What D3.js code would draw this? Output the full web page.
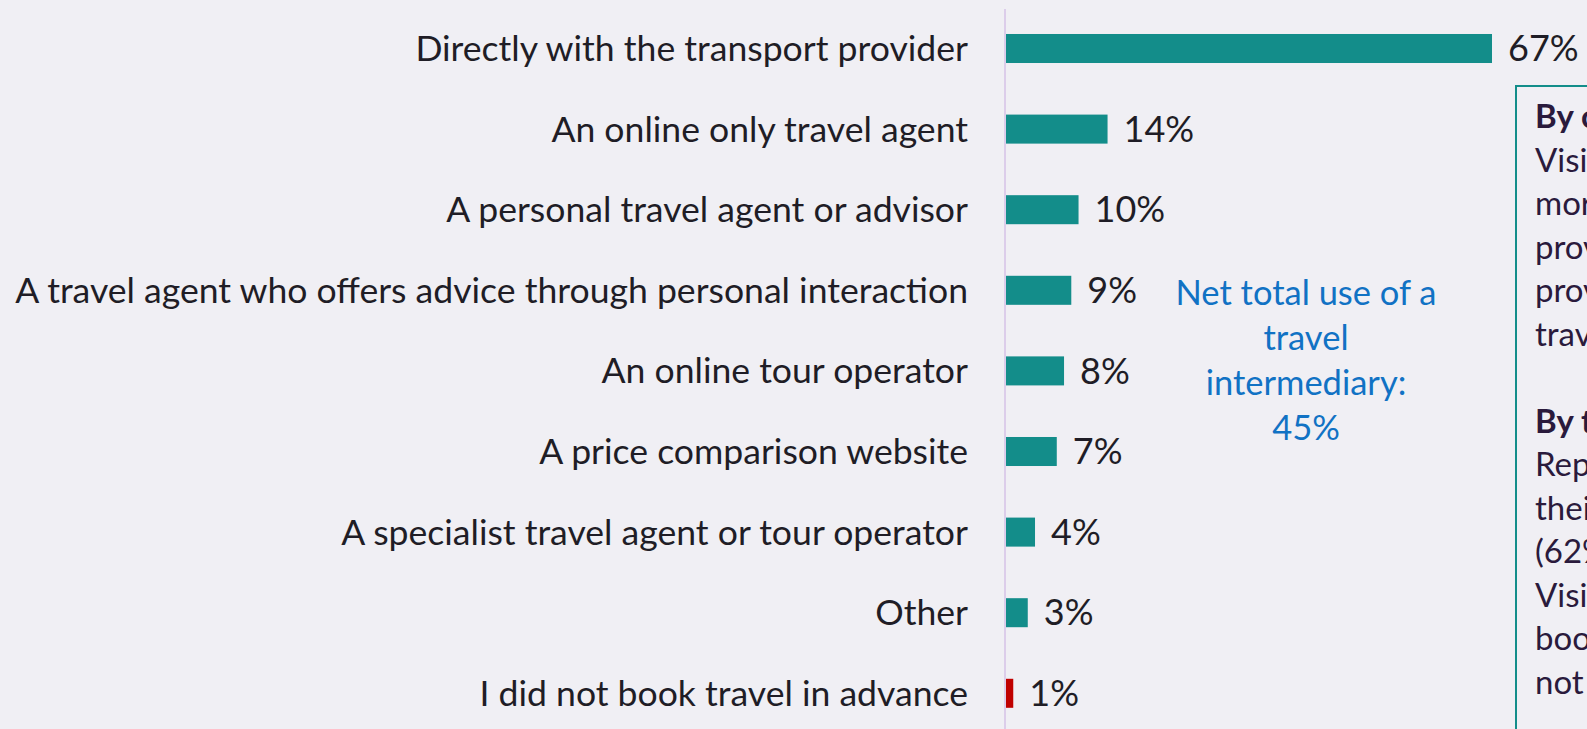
<!DOCTYPE html>
<html>
<head>
<meta charset="utf-8">
<script src="https://cdn.jsdelivr.net/npm/d3@7"></script>
<style>
  html, body { margin: 0; padding: 0; background: #f0eff4; overflow: hidden; }
  svg { display: block; font-family: Lato, "Open Sans", sans-serif; }
</style>
</head>
<body>
<div id="chart"></div>
<script>
// Data
const categories = [
    "Directly with the transport provider",
    "An online only travel agent",
    "A personal travel agent or advisor",
    "A travel agent who offers advice through personal interaction",
    "An online tour operator",
    "A price comparison website",
    "A specialist travel agent or tour operator",
    "Other",
    "I did not book travel in advance"
];
const values = [67, 14, 10, 9, 8, 7, 4, 3, 1];
const netLines = ["Net total use of a", "travel", "intermediary:", "45%"];
const boxLines = [
    { text: "By country:", bold: true },
    { text: "Visitors from long-haul markets were", bold: false },
    { text: "more likely than average to book with a", bold: false },
    { text: "provider directly, and short-haul visitors", bold: false },
    { text: "proved the most likely to use a", bold: false },
    { text: "travel intermediary.", bold: false },
    { text: "", bold: false },
    { text: "By type of visitor:", bold: true },
    { text: "Repeat visitors were more likely to book", bold: false },
    { text: "their travel directly with the provider", bold: false },
    { text: "(62%) than first-time visitors.", bold: false },
    { text: "Visitors on business were less likely to", bold: false },
    { text: "book in advance, with 3% saying they did", bold: false },
    { text: "not book travel before arriving.", bold: false }
];

const width = 1587, height = 729;

const svg = d3.select("#chart").append("svg")
    .attr("width", width)
    .attr("height", height);

svg.append("rect").attr("width", width).attr("height", height).attr("fill", "#f0eff4");

// Scales
const x = d3.scaleLinear().domain([0, 67]).range([1006, 1492]);
const y = d3.scaleBand()
    .domain(categories)
    .range([8.2, 733.6])
    .paddingInner(0.64)
    .paddingOuter(0.32);

// Axis line
svg.append("line")
    .attr("x1", 1005).attr("x2", 1005)
    .attr("y1", 9).attr("y2", height)
    .attr("stroke", "#dccdea")
    .attr("stroke-width", 2);

// Bars
svg.append("g").selectAll("rect")
    .data(values)
    .enter().append("rect")
    .attr("x", x(0))
    .attr("y", (d, i) => y(categories[i]))
    .attr("width", d => x(d) - x(0))
    .attr("height", y.bandwidth())
    .attr("fill", (d, i) => i === categories.length - 1 ? "#c00000" : "#138d8a");

// Category labels
svg.append("g").selectAll("text")
    .data(categories)
    .enter().append("text")
    .attr("x", 968)
    .attr("y", d => y(d) + y.bandwidth() / 2)
    .attr("dy", "0.35em")
    .attr("text-anchor", "end")
    .attr("fill", "#1f1d26")
    .style("font-size", "35.6px")
    .text(d => d);

// Value labels
svg.append("g").selectAll("text")
    .data(values)
    .enter().append("text")
    .attr("x", d => x(d) + 16)
    .attr("y", (d, i) => y(categories[i]) + y.bandwidth() / 2)
    .attr("dy", "0.35em")
    .attr("fill", "#1f1d26")
    .style("font-size", "36px")
    .text(d => d + "%");

// Net total annotation
svg.append("g").selectAll("text")
    .data(netLines)
    .enter().append("text")
    .attr("x", 1306)
    .attr("y", (d, i) => 305 + i * 45)
    .attr("text-anchor", "middle")
    .attr("fill", "#1172c4")
    .style("font-size", "34.5px")
    .text(d => d);

// Side box
svg.append("rect")
    .attr("x", 1516).attr("y", 86)
    .attr("width", 200).attr("height", 700)
    .attr("fill", "none")
    .attr("stroke", "#138d8a")
    .attr("stroke-width", 2);

svg.append("g").selectAll("text")
    .data(boxLines)
    .enter().append("text")
    .attr("x", 1535)
    .attr("y", (d, i) => 128 + i * 43.5)
    .attr("fill", "#2a1a3c")
    .style("font-size", "33px")
    .style("font-weight", d => d.bold ? "bold" : "normal")
    .text(d => d.text);
</script>
</body>
</html>
